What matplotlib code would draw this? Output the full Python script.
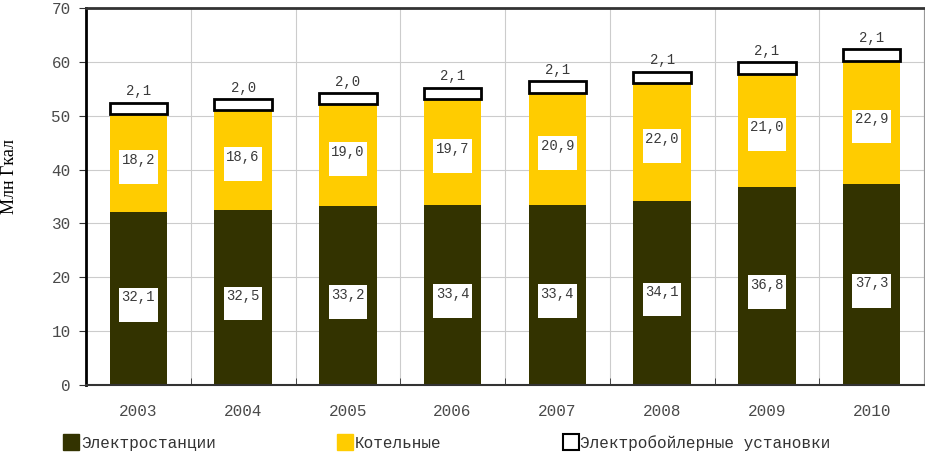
import numpy as np
import matplotlib
matplotlib.use('Agg')
import matplotlib.pyplot as plt
from matplotlib.lines import Line2D

years = ['2003', '2004', '2005', '2006', '2007', '2008', '2009', '2010']
plants = [32.1, 32.5, 33.2, 33.4, 33.4, 34.1, 36.8, 37.3]
boilers = [18.2, 18.6, 19.0, 19.7, 20.9, 22.0, 21.0, 22.9]
eboilers = [2.1, 2.0, 2.0, 2.1, 2.1, 2.1, 2.1, 2.1]
names = ['Электростанции', 'Котельные', 'Электробойлерные установки']

dark = '#333300'
yellow = '#ffcc00'
mono = 'Liberation Mono'

fig = plt.figure(figsize=(9.25, 4.53), dpi=100)
ax = fig.add_axes([86/925, 1-385/453, 838/925, 377/453])

x = np.arange(len(years))
w = 0.55
p = np.array(plants)
b = np.array(boilers)
e = np.array(eboilers)

ax.bar(x, p, w, color=dark, zorder=2)
ax.bar(x, b, w, bottom=p, color=yellow, zorder=2)
ax.bar(x, e, w, bottom=p+b, color='white', edgecolor='black', linewidth=2, zorder=3)

def fmt(v):
    return ('%.1f' % v).replace('.', ',')

box = dict(boxstyle='square,pad=0.18', fc='white', ec='none')
for i in range(len(years)):
    # labels in white boxes, text at the top of the box
    ax.text(x[i], p[i]/2 + 1.5, fmt(p[i]) + '\n', ha='center', va='top', fontsize=10,
            family=mono, color='#3a3a3a', linespacing=1.05, zorder=4, bbox=box)
    ax.text(x[i], p[i] + b[i]/2 + 1.9, fmt(b[i]) + '\n', ha='center', va='top', fontsize=10,
            family=mono, color='#3a3a3a', linespacing=1.05, zorder=4, bbox=box)
    ax.text(x[i], p[i] + b[i] + e[i] + 0.8, fmt(e[i]), ha='center', va='bottom', fontsize=10,
            family=mono, color='#3a3a3a', zorder=4)

ax.set_xlim(-0.5, len(years) - 0.5)
ax.set_ylim(0, 70)
ax.set_yticks(range(0, 71, 10))
ax.set_xticks(x)
ax.set_xticklabels(years)
ax.set_xticks(np.arange(-0.5, len(years), 1), minor=True)
ax.tick_params(axis='x', which='major', length=0, pad=14)
ax.tick_params(axis='x', which='minor', length=5, direction='in', color='#333333')
ax.tick_params(axis='y', length=5, color='#333333', pad=6)
for lab in ax.get_xticklabels() + ax.get_yticklabels():
    lab.set_family(mono)
    lab.set_fontsize(11.5)
    lab.set_color('#4a4a4a')

ax.grid(True, which='minor', axis='x', color='#cccccc', linewidth=0.8, zorder=0)
ax.grid(True, which='major', axis='y', color='#cccccc', linewidth=0.8, zorder=0)

ax.spines['left'].set_linewidth(2)
ax.spines['left'].set_color('black')
ax.spines['top'].set_linewidth(2)
ax.spines['top'].set_color('#333333')
ax.spines['bottom'].set_linewidth(1.5)
ax.spines['bottom'].set_color('#333333')
ax.spines['right'].set_linewidth(0.8)
ax.spines['right'].set_color('#999999')

fig.text(1/925, 1-176/453, 'Млн Гкал', rotation=90, ha='left', va='center',
         family='Liberation Serif', fontsize=13, color='black')

handles = [
    Line2D([], [], marker='s', linestyle='none', markersize=11, markerfacecolor=dark, markeredgecolor=dark),
    Line2D([], [], marker='s', linestyle='none', markersize=11, markerfacecolor=yellow, markeredgecolor=yellow),
    Line2D([], [], marker='s', linestyle='none', markersize=11, markerfacecolor='white', markeredgecolor='black', markeredgewidth=1.5),
]
leg = fig.legend(handles, names, loc='center left', bbox_to_anchor=(65/925, 1-443/453), ncol=3,
                 frameon=False, handlelength=0.8, handletextpad=0.2, columnspacing=7.7,
                 prop={'family': mono, 'size': 11.5}, borderaxespad=0, borderpad=0)
for t in leg.get_texts():
    t.set_color('#333333')

fig.savefig('out.png', dpi=100)
